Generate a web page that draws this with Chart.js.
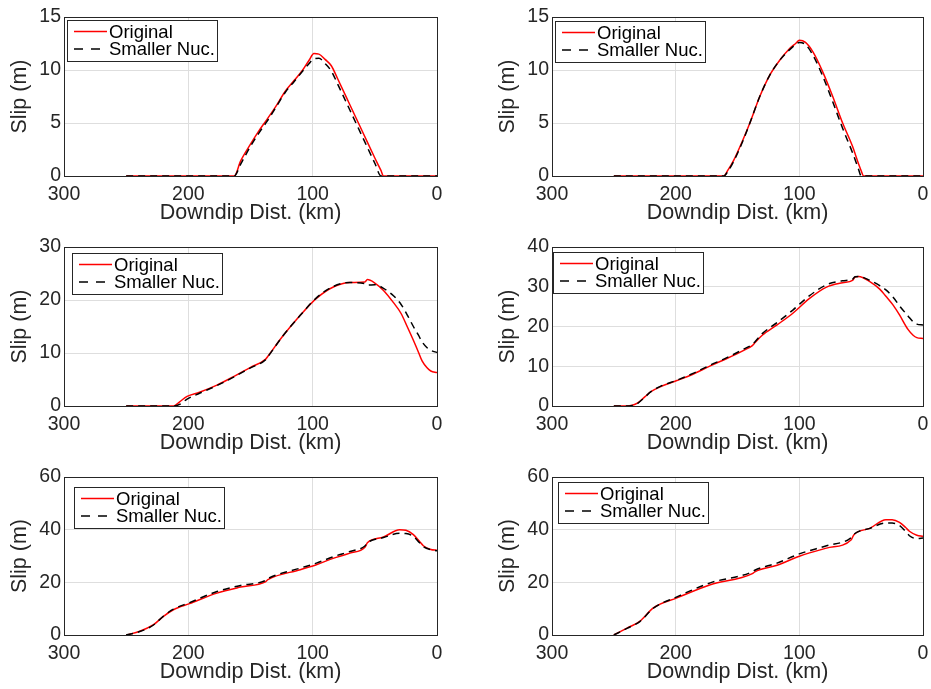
<!DOCTYPE html>
<html lang="en">
<head>
<meta charset="UTF-8">
<title>Slip vs Downdip Distance</title>
<script src="https://cdn.jsdelivr.net/npm/chart.js"></script>
<style>
  body { margin: 0; background: #fff; width: 931px; height: 689px; overflow: hidden; }
  canvas { position: absolute; }
</style>
</head>
<body>
<script>
// ---- data (km downdip, slip in m) ----
const seriesNames = ['Original', 'Smaller Nuc.'];

const p1Dist  = [250, 163, 158, 150, 143, 137, 130, 122, 115, 108, 103, 99, 95, 90, 85, 80, 70, 60, 50, 45, 43, 0];
const p1Orig  = [0, 0, 1.4, 3.0, 4.3, 5.3, 6.5, 8.0, 9.0, 10.0, 10.9, 11.55, 11.5, 11.0, 10.4, 9.2, 6.7, 4.2, 1.7, 0.5, 0, 0];
const p1Small = [0, 0, 1.1, 2.8, 4.1, 5.1, 6.4, 7.9, 8.9, 9.9, 10.6, 11.05, 11.1, 10.6, 9.9, 8.7, 6.2, 3.7, 1.2, 0, 0, 0];

const p2Dist  = [250, 161, 158, 153, 146, 140, 132, 124, 116, 108, 103, 100, 95, 89, 81, 73, 65, 57, 52, 50, 48, 0];
const p2Orig  = [0, 0, 0.5, 1.5, 3.3, 5.0, 7.5, 9.5, 10.9, 12.0, 12.5, 12.8, 12.6, 11.7, 9.8, 7.5, 5.0, 2.8, 1.1, 0.5, 0, 0];
const p2Small = [0, 0, 0.4, 1.4, 3.2, 5.0, 7.5, 9.5, 10.9, 11.9, 12.4, 12.6, 12.4, 11.4, 9.4, 7.0, 4.5, 2.2, 0.6, 0, 0, 0];

const p3Dist  = [250, 212, 207, 201, 191, 177, 164, 150, 138, 136, 124, 110, 97, 83, 70, 58, 56, 50, 43, 35, 29, 24, 19, 15, 12, 8, 5, 0];
const p3Orig  = [0, 0, 0.8, 1.8, 2.6, 3.95, 5.5, 7.3, 8.8, 9.4, 13.2, 17.1, 20.3, 22.5, 23.3, 23.4, 23.85, 23.2, 21.8, 19.5, 17.5, 15.0, 12.4, 10.2, 8.5, 7.2, 6.6, 6.3];
const p3Small = [0, 0, 0.3, 1.3, 2.4, 3.85, 5.4, 7.2, 8.7, 9.3, 13.2, 17.1, 20.4, 22.6, 23.3, 23.1, 22.8, 22.9, 22.2, 20.8, 19.2, 17.2, 15.0, 13.4, 12.1, 11.0, 10.5, 10.1];

const p4Dist  = [250, 240, 235, 231, 225, 220, 212, 199, 186, 172, 159, 145, 138, 136, 130, 118, 105, 92, 78, 65, 57, 55, 52, 43, 35, 30, 24, 19, 12, 8, 5, 0];
const p4Orig  = [0, 0, 0.2, 0.7, 2.3, 3.6, 4.9, 6.4, 8.0, 10.1, 11.9, 14.0, 15.2, 15.9, 17.8, 20.4, 23.4, 27.0, 29.9, 31.0, 31.6, 32.4, 32.6, 31.3, 29.4, 27.6, 25.3, 22.9, 19.2, 17.8, 17.2, 17.0];
const p4Small = [0, 0, 0.15, 0.6, 2.2, 3.6, 5.0, 6.5, 8.2, 10.3, 12.1, 14.3, 15.5, 16.1, 18.2, 21.0, 24.2, 27.7, 30.5, 31.5, 31.9, 32.5, 32.6, 31.6, 30.3, 29.2, 27.3, 25.2, 22.6, 21.2, 20.6, 20.4];

const p5Dist  = [250, 239, 228, 220, 212, 199, 177, 158, 138, 136, 110, 97, 83, 70, 58, 56, 43, 30, 25, 19, 14, 11, 5, 0];
const p5Orig  = [0, 1.4, 3.9, 7.1, 9.6, 11.9, 15.9, 18.2, 20.2, 21.0, 24.8, 26.7, 29.2, 31.1, 33.3, 35.0, 37.2, 40.0, 39.8, 38.1, 35.5, 33.9, 32.5, 32.2];
const p5Small = [0, 1.3, 3.8, 7.2, 9.8, 12.3, 16.5, 18.8, 20.7, 21.4, 25.4, 27.3, 29.8, 31.7, 33.8, 35.0, 37.0, 38.6, 38.5, 37.4, 35.0, 33.6, 32.4, 32.0];

const p6Dist  = [250, 239, 229, 218, 199, 172, 138, 136, 118, 100, 78, 58, 56, 43, 30, 25, 19, 14, 11, 5, 0];
const p6Orig  = [0, 2.7, 5.2, 10.3, 14.1, 19.1, 23.3, 24.0, 26.5, 29.9, 33.0, 36.2, 38.0, 40.5, 43.8, 43.8, 42.8, 40.8, 39.4, 37.9, 37.5];
const p6Small = [0, 2.6, 5.1, 10.2, 14.5, 19.8, 24.0, 24.6, 27.3, 30.8, 33.9, 37.0, 38.2, 40.5, 42.5, 42.5, 41.6, 39.3, 37.7, 36.6, 36.8];

const xTicks = [0, 100, 200, 300];
const yMaxes = [15, 15, 30, 40, 60, 60];
const ySteps = [5, 5, 10, 10, 20, 20];

// ---- layout: plot rectangle of each panel in page pixels, and legend offset ----
const panels = [
  { dist: p1Dist, orig: p1Orig, small: p1Small, L: 64,  R: 437, T: 17,  B: 176, lx: 3,  ly: 3 },
  { dist: p2Dist, orig: p2Orig, small: p2Small, L: 552, R: 923, T: 17,  B: 176, lx: 3,  ly: 4 },
  { dist: p3Dist, orig: p3Orig, small: p3Small, L: 64,  R: 437, T: 247, B: 406, lx: 8,  ly: 6 },
  { dist: p4Dist, orig: p4Orig, small: p4Small, L: 552, R: 923, T: 247, B: 406, lx: 1,  ly: 5 },
  { dist: p5Dist, orig: p5Orig, small: p5Small, L: 64,  R: 437, T: 477, B: 635, lx: 10, ly: 10 },
  { dist: p6Dist, orig: p6Orig, small: p6Small, L: 552, R: 923, T: 477, B: 635, lx: 6,  ly: 5 }
];

const FONT = '"Liberation Sans", Arial, Helvetica, sans-serif';
const INK = '#262626';
const YAXIS_W = 64, XAXIS_H = 56, PAD_T = 17, PAD_R = 10;

// full axes box (MATLAB "box on")
const axesBox = {
  id: 'axesBox',
  beforeDatasetsDraw(chart) {
    const { ctx, chartArea: a } = chart;
    ctx.save();
    ctx.strokeStyle = INK;
    ctx.lineWidth = 1;
    ctx.strokeRect(Math.round(a.left) + 0.5, Math.round(a.top) + 0.5,
                   Math.round(a.right - a.left), Math.round(a.bottom - a.top));
    ctx.restore();
  }
};

// legend drawn inside the axes, with a framed white box
const boxLegend = {
  id: 'boxLegend',
  afterDatasetsDraw(chart, args, opts) {
    const { ctx, chartArea: a } = chart;
    const x = Math.round(a.left + opts.dx), y = Math.round(a.top + opts.dy);
    const w = 150, h = 41;
    ctx.save();
    ctx.fillStyle = '#fff';
    ctx.fillRect(x, y, w, h);
    ctx.strokeStyle = INK;
    ctx.lineWidth = 1;
    ctx.strokeRect(x + 0.5, y + 0.5, w, h);
    ctx.font = '18.5px ' + FONT;
    ctx.textBaseline = 'middle';
    chart.data.datasets.forEach((ds, i) => {
      const cy = y + 12.5 + i * 17.5;
      const dashed = !!ds.borderDash;
      ctx.strokeStyle = ds.borderColor;
      ctx.lineWidth = ds.borderWidth;
      ctx.setLineDash(dashed ? [9, 8] : []);
      ctx.beginPath();
      ctx.moveTo(x + 7, cy - 1);
      ctx.lineTo(x + (dashed ? 34 : 40), cy - 1);
      ctx.stroke();
      ctx.setLineDash([]);
      ctx.fillStyle = '#000';
      ctx.fillText(ds.label, x + 42, cy);
    });
    ctx.restore();
  }
};

panels.forEach((p, idx) => {
  const cv = document.createElement('canvas');
  const cw = (p.R - p.L) + YAXIS_W + PAD_R;
  const ch = (p.B - p.T) + PAD_T + XAXIS_H;
  cv.width = cw;
  cv.height = ch;
  cv.style.left = (p.L - YAXIS_W) + 'px';
  cv.style.top = (p.T - PAD_T) + 'px';
  cv.style.width = cw + 'px';
  cv.style.height = ch + 'px';
  document.body.appendChild(cv);

  new Chart(cv.getContext('2d'), {
    type: 'line',
    data: {
      datasets: [
        {
          label: seriesNames[0],
          data: p.dist.map((d, i) => ({ x: d, y: p.orig[i] })),
          borderColor: '#ff0000',
          borderWidth: 1.5,
          pointRadius: 0,
          cubicInterpolationMode: 'monotone',
          order: 1
        },
        {
          label: seriesNames[1],
          data: p.dist.map((d, i) => ({ x: d, y: p.small[i] })),
          borderColor: '#000000',
          borderWidth: 1.5,
          borderDash: [7, 5],
          pointRadius: 0,
          cubicInterpolationMode: 'monotone',
          order: 0
        }
      ]
    },
    options: {
      responsive: false,
      animation: false,
      layout: { padding: { top: PAD_T, right: PAD_R, left: 0, bottom: 0 } },
      plugins: {
        legend: { display: false },
        tooltip: { enabled: false },
        boxLegend: { dx: p.lx, dy: p.ly }
      },
      scales: {
        x: {
          type: 'linear',
          reverse: true,
          min: 0,
          max: 300,
          afterFit(s) { s.height = XAXIS_H; },
          afterBuildTicks(s) { s.ticks = xTicks.map(v => ({ value: v })); },
          ticks: { color: INK, font: { family: FONT, size: 19.5 }, padding: 7, maxRotation: 0 },
          grid: { color: '#dedede', drawTicks: false },
          border: { display: false },
          title: {
            display: true, text: 'Downdip Dist. (km)', color: INK,
            font: { family: FONT, size: 21.5 }, padding: { top: 0, bottom: 6 }
          }
        },
        y: {
          min: 0,
          max: yMaxes[idx],
          afterFit(s) { s.width = YAXIS_W; },
          ticks: { stepSize: ySteps[idx], color: INK, font: { family: FONT, size: 19.5 }, padding: 3 },
          grid: { color: '#dedede', drawTicks: false },
          border: { display: false },
          title: {
            display: true, text: 'Slip (m)', color: INK,
            font: { family: FONT, size: 21.5 }, padding: { top: 7, bottom: 0 }
          }
        }
      }
    },
    plugins: [axesBox, boxLegend]
  });
});
</script>
</body>
</html>
